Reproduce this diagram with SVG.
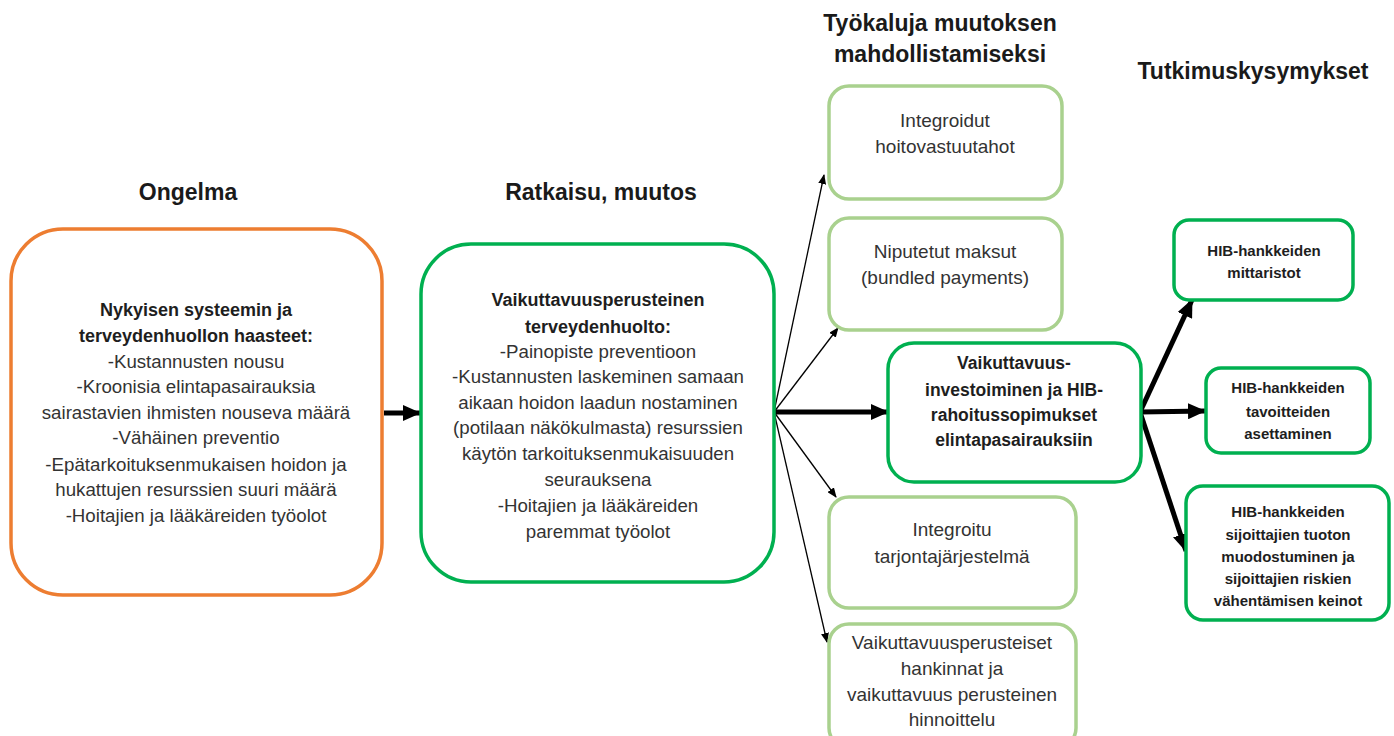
<svg xmlns="http://www.w3.org/2000/svg" width="1394" height="736" viewBox="0 0 1394 736">
  <defs>
    <style>
      .heading { font-family: "Liberation Sans", Arial, sans-serif; font-weight: bold; font-size: 23px; fill: #1a1a1a; text-anchor: middle; }
      .body { font-family: "Liberation Sans", Arial, sans-serif; font-size: 18.7px; fill: #333333; text-anchor: middle; }
      .tool { font-size: 19px; }
      .bold { font-weight: bold; font-size: 18px; fill: #1e1e1e; }
      .boldc { font-size: 17.5px; }
      .small { font-family: "Liberation Sans", Arial, sans-serif; font-size: 15px; font-weight: bold; fill: #1e1e1e; text-anchor: middle; }
      .orange { fill: #ffffff; stroke: #ED7D31; stroke-width: 3.5; }
      .green { fill: #ffffff; stroke: #00B050; stroke-width: 3.5; }
      .light { fill: #ffffff; stroke: #A9D18E; stroke-width: 3.5; }
      .thin { stroke: #000000; stroke-width: 1.3; fill: none; marker-end: url(#headSmall); }
      .thick { stroke: #000000; stroke-width: 5; fill: none; marker-end: url(#headBig); }
    </style>
    <marker id="headSmall" markerUnits="userSpaceOnUse" markerWidth="10" markerHeight="8" refX="9" refY="4" orient="auto">
      <path d="M0,0 L10,4 L0,8 Z" fill="#000"/>
    </marker>
    <marker id="headBig" markerUnits="userSpaceOnUse" markerWidth="18" markerHeight="16" refX="17" refY="8" orient="auto">
      <path d="M0,0 L18,8 L0,16 Z" fill="#000"/>
    </marker>
  </defs>

  <rect width="1394" height="736" fill="#ffffff"/>

  <!-- column headings -->
  <g id="headings">
    <text class="heading" x="188" y="200">Ongelma</text>
    <text class="heading" x="601" y="200">Ratkaisu, muutos</text>
    <text class="heading" x="940" y="31">Työkaluja muutoksen</text>
    <text class="heading" x="940" y="62">mahdollistamiseksi</text>
    <text class="heading" x="1253" y="79">Tutkimuskysymykset</text>
  </g>

  <!-- connectors -->
  <g id="connectors">
    <line class="thick" x1="384" y1="413" x2="420" y2="413"/>
    <line class="thin" x1="774" y1="412" x2="824" y2="175"/>
    <line class="thin" x1="774" y1="412" x2="838" y2="328"/>
    <line class="thick" x1="774" y1="412" x2="888" y2="412"/>
    <line class="thin" x1="774" y1="412" x2="836" y2="497"/>
    <line class="thin" x1="774" y1="412" x2="827" y2="642"/>
    <line class="thick" x1="1140" y1="412" x2="1192" y2="300"/>
    <line class="thick" x1="1140" y1="412" x2="1205" y2="411"/>
    <line class="thick" x1="1140" y1="412" x2="1186" y2="551"/>
  </g>

  <!-- problem -->
  <g id="ongelma">
    <rect class="orange" x="11" y="229" width="371" height="366" rx="52"/>
    <text class="body bold" x="196" y="316">Nykyisen systeemin ja</text>
    <text class="body bold" x="196" y="342">terveydenhuollon haasteet:</text>
    <text class="body" x="196" y="368">-Kustannusten nousu</text>
    <text class="body" x="196" y="393">-Kroonisia elintapasairauksia</text>
    <text class="body" x="196" y="419">sairastavien ihmisten nouseva määrä</text>
    <text class="body" x="196" y="444">-Vähäinen preventio</text>
    <text class="body" x="196" y="471">-Epätarkoituksenmukaisen hoidon ja</text>
    <text class="body" x="196" y="496">hukattujen resurssien suuri määrä</text>
    <text class="body" x="196" y="522">-Hoitajien ja lääkäreiden työolot</text>
  </g>

  <!-- solution -->
  <g id="ratkaisu">
    <rect class="green" x="421" y="244" width="353" height="338" rx="50"/>
    <text class="body bold" x="598" y="306">Vaikuttavuusperusteinen</text>
    <text class="body bold" x="598" y="333">terveydenhuolto:</text>
    <text class="body" x="598" y="358">-Painopiste preventioon</text>
    <text class="body" x="598" y="383">-Kustannusten laskeminen samaan</text>
    <text class="body" x="598" y="409">aikaan hoidon laadun nostaminen</text>
    <text class="body" x="598" y="434">(potilaan näkökulmasta) resurssien</text>
    <text class="body" x="598" y="460">käytön tarkoituksenmukaisuuden</text>
    <text class="body" x="598" y="486">seurauksena</text>
    <text class="body" x="598" y="512">-Hoitajien ja lääkäreiden</text>
    <text class="body" x="598" y="538">paremmat työolot</text>
  </g>

  <!-- tools -->
  <g id="tool-integroidut">
    <rect class="light" x="829" y="86" width="233" height="113" rx="20"/>
    <text class="body tool" x="945" y="127">Integroidut</text>
    <text class="body tool" x="945" y="153">hoitovastuutahot</text>
  </g>
  <g id="tool-niputetut">
    <rect class="light" x="829" y="218" width="233" height="112" rx="20"/>
    <text class="body tool" x="945" y="258">Niputetut maksut</text>
    <text class="body tool" x="945" y="284">(bundled payments)</text>
  </g>
  <g id="tool-hib">
    <rect class="green" x="888" y="343" width="253" height="139" rx="26"/>
    <text class="body bold boldc" x="1014" y="369">Vaikuttavuus-</text>
    <text class="body bold boldc" x="1014" y="396">investoiminen ja HIB-</text>
    <text class="body bold boldc" x="1014" y="421">rahoitussopimukset</text>
    <text class="body bold boldc" x="1014" y="446">elintapasairauksiin</text>
  </g>
  <g id="tool-tarjonta">
    <rect class="light" x="829" y="497" width="247" height="111" rx="20"/>
    <text class="body tool" x="952" y="536">Integroitu</text>
    <text class="body tool" x="952" y="563">tarjontajärjestelmä</text>
  </g>
  <g id="tool-hankinnat">
    <rect class="light" x="829" y="624" width="247" height="124" rx="20"/>
    <text class="body tool" x="952" y="649">Vaikuttavuusperusteiset</text>
    <text class="body tool" x="952" y="675">hankinnat ja</text>
    <text class="body tool" x="952" y="701">vaikuttavuus perusteinen</text>
    <text class="body tool" x="952" y="726">hinnoittelu</text>
  </g>

  <!-- research questions -->
  <g id="rq-mittaristot">
    <rect class="green" x="1174" y="220" width="179" height="80" rx="15"/>
    <text class="small" x="1264" y="256">HIB-hankkeiden</text>
    <text class="small" x="1264" y="278">mittaristot</text>
  </g>
  <g id="rq-tavoitteet">
    <rect class="green" x="1206" y="368" width="164" height="85" rx="15"/>
    <text class="small" x="1288" y="393">HIB-hankkeiden</text>
    <text class="small" x="1288" y="417">tavoitteiden</text>
    <text class="small" x="1288" y="439">asettaminen</text>
  </g>
  <g id="rq-sijoittajat">
    <rect class="green" x="1186" y="486" width="203" height="134" rx="17"/>
    <text class="small" x="1288" y="517">HIB-hankkeiden</text>
    <text class="small" x="1288" y="540">sijoittajien tuoton</text>
    <text class="small" x="1288" y="562">muodostuminen ja</text>
    <text class="small" x="1288" y="584">sijoittajien riskien</text>
    <text class="small" x="1288" y="606">vähentämisen keinot</text>
  </g>
</svg>
